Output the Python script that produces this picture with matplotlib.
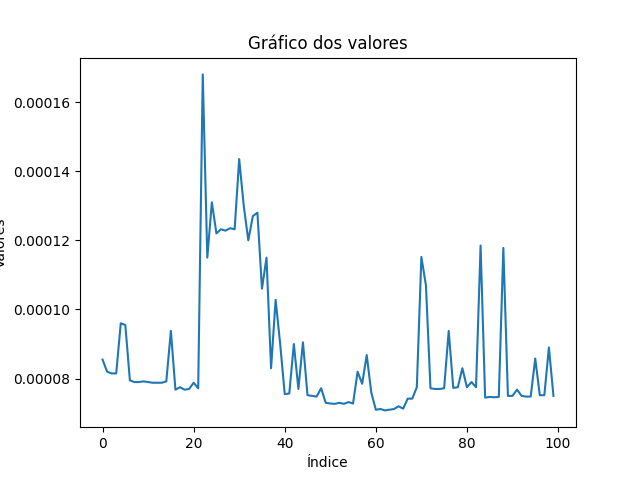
import numpy as np
import matplotlib
matplotlib.use('Agg')
import matplotlib.pyplot as plt

# valores (em 1e-5)
valores = np.array([
    8.55, 8.2, 8.15, 8.15, 9.6, 9.55, 7.95, 7.9, 7.9, 7.92,
    7.9, 7.88, 7.88, 7.88, 7.92, 9.38, 7.68, 7.75, 7.68, 7.7,
    7.88, 7.72, 16.8, 11.5, 13.1, 12.2, 12.32, 12.28, 12.35, 12.32,
    14.35, 13.0, 12.0, 12.7, 12.8, 10.6, 11.5, 8.3, 10.28, 9.0,
    7.55, 7.57, 9.0, 7.7, 9.05, 7.52, 7.5, 7.48, 7.72, 7.3,
    7.28, 7.27, 7.3, 7.27, 7.32, 7.28, 8.2, 7.85, 8.68, 7.6,
    7.1, 7.12, 7.08, 7.1, 7.12, 7.2, 7.13, 7.42, 7.42, 7.75,
    11.52, 10.7, 7.72, 7.7, 7.7, 7.72, 9.38, 7.73, 7.75, 8.3,
    7.75, 7.9, 7.75, 11.85, 7.45, 7.47, 7.46, 7.47, 11.78, 7.5,
    7.5, 7.68, 7.5, 7.48, 7.48, 8.58, 7.52, 7.52, 8.9, 7.5,
]) * 1e-5

fig, ax = plt.subplots(figsize=(6.4, 4.8), dpi=100)
ax.plot(valores)
ax.set_title('Gráfico dos valores')
ax.set_xlabel('Índice')
ax.set_ylabel('Valores')
fig.savefig('out.png')
